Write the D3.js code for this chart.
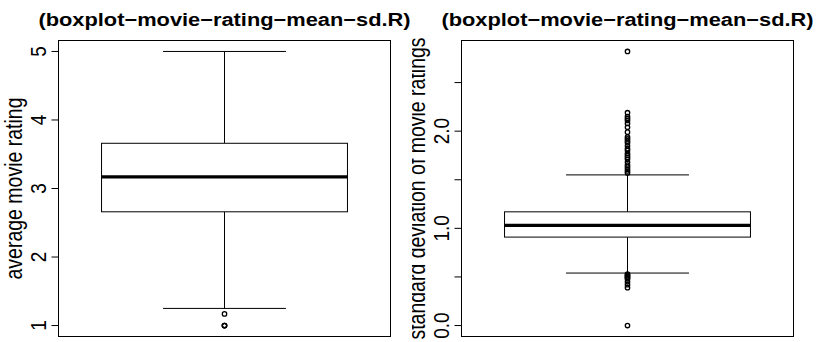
<!DOCTYPE html>
<html>
<head>
<meta charset="utf-8">
<script src="https://cdn.jsdelivr.net/npm/d3@7"></script>
<style>
    body { margin: 0; background: #fff; }
    svg { display: block; }
    text { font-family: "Liberation Sans", Arial, sans-serif; fill: #000; }
</style>
</head>
<body>
<main></main>
<script>
// box stats: lower whisker, Q1, median, Q3, upper whisker
var titleText = "(boxplot\u2212movie\u2212rating\u2212mean\u2212sd.R)";

var meanLabel = "average movie rating";
var meanStats = [1.25, 2.66, 3.17, 3.66, 5.0];
var meanOutliers = [1.17, 1.0, 1.0, 1.0];
var meanTicks = [1, 2, 3, 4, 5];
var meanTickLabels = ["1", "2", "3", "4", "5"];

var sdLabel = "standard deviation of movie ratings";
var sdStats = [0.54, 0.91, 1.03, 1.17, 1.55];
var sdOutliers = [2.82, 2.19, 2.15, 2.13, 2.11, 2.08, 2.04, 1.99,
                  1.94, 1.92, 1.90, 1.88, 1.85, 1.82, 1.80, 1.77, 1.75, 1.73,
                  1.71, 1.68, 1.65, 1.63, 1.61, 1.59, 1.57,
                  0.53, 0.52, 0.51, 0.50, 0.49, 0.48, 0.45, 0.42, 0.39, 0.0];
var sdTicks = [0, 0.5, 1.0, 1.5, 2.0, 2.5];
var sdTickLabels = ["0.0", "", "1.0", "", "2.0", ""];

var W = 820, H = 342;
var sx = 1.18; // the picture is a bit wider than tall

var svg = d3.select("main").append("svg")
            .attr("width", W)
            .attr("height", H);

function d3MakeBoxplot(offsetX, clipX, stats, outliers, ticks, tickLabels, label) {
    var left = 58.5 + offsetX, right = 390.5 + offsetX;
    var top = 40.5, bottom = 336.5;

    // figure region, R clips the margin text to it
    var clipId = "clip" + offsetX;
    svg.append("clipPath").attr("id", clipId)
       .append("rect")
       .attr("x", clipX).attr("y", 0)
       .attr("width", W / 2).attr("height", H);
    var g = svg.append("g").attr("clip-path", "url(#" + clipId + ")");

    var all = stats.concat(outliers);
    var lo = d3.min(all), hi = d3.max(all);
    var pad = (hi - lo) * 0.04;

    var x = d3.scaleLinear().domain([0.46, 1.54]).range([left, right]);
    var y = d3.scaleLinear().domain([lo - pad, hi + pad]).range([bottom, top]);

    // title
    g.append("text")
     .attr("transform", "translate(" + x(1) + ",26) scale(" + sx + ",1)")
     .attr("text-anchor", "middle")
     .attr("font-size", 18.5)
     .attr("font-weight", "bold")
     .text(titleText);

    // whiskers
    g.append("line")
     .attr("x1", x(1)).attr("x2", x(1))
     .attr("y1", y(stats[0])).attr("y2", y(stats[1]))
     .attr("stroke", "#000").attr("stroke-width", 1);
    g.append("line")
     .attr("x1", x(1)).attr("x2", x(1))
     .attr("y1", y(stats[3])).attr("y2", y(stats[4]))
     .attr("stroke", "#000").attr("stroke-width", 1);
    g.selectAll("line.cap")
     .data([stats[0], stats[4]])
     .enter()
     .append("line")
     .attr("class", "cap")
     .attr("x1", x(0.8)).attr("x2", x(1.2))
     .attr("y1", d => y(d)).attr("y2", d => y(d))
     .attr("stroke", "#000").attr("stroke-width", 1);

    // box
    g.append("rect")
     .attr("x", x(0.6))
     .attr("y", y(stats[3]))
     .attr("width", x(1.4) - x(0.6))
     .attr("height", y(stats[1]) - y(stats[3]))
     .attr("fill", "#fff")
     .attr("stroke", "#000").attr("stroke-width", 1);
    g.append("line")
     .attr("x1", x(0.6)).attr("x2", x(1.4))
     .attr("y1", y(stats[2])).attr("y2", y(stats[2]))
     .attr("stroke", "#000").attr("stroke-width", 3.2);

    // outliers
    g.selectAll("circle")
     .data(outliers)
     .enter()
     .append("circle")
     .attr("cx", x(1))
     .attr("cy", d => y(d))
     .attr("r", 2.2)
     .attr("fill", "none")
     .attr("stroke", "#000").attr("stroke-width", 1.3);

    // plot frame
    g.append("rect")
     .attr("x", left).attr("y", top)
     .attr("width", right - left).attr("height", bottom - top)
     .attr("fill", "none")
     .attr("stroke", "#000").attr("stroke-width", 1);

    // y axis
    var axis = g.append("g").attr("transform", "translate(" + left + ",0)");
    axis.selectAll("line")
        .data(ticks)
        .enter()
        .append("line")
        .attr("x1", -7).attr("x2", 0)
        .attr("y1", d => y(d)).attr("y2", d => y(d))
        .attr("stroke", "#000").attr("stroke-width", 1);
    axis.selectAll("text")
        .data(ticks)
        .enter()
        .append("text")
        .attr("transform", d => "translate(-12.5," + y(d) + ") scale(" + sx + ",1) rotate(-90)")
        .attr("text-anchor", "middle")
        .attr("font-size", 19)
        .text((d, i) => tickLabels[i]);

    g.append("text")
     .attr("transform", "translate(" + (left - 37) + "," + ((top + bottom) / 2) + ") scale(" + sx + ",1) rotate(-90)")
     .attr("text-anchor", "middle")
     .attr("font-size", 19.5)
     .text(label);
}

d3MakeBoxplot(0, 0, meanStats, meanOutliers, meanTicks, meanTickLabels, meanLabel);
d3MakeBoxplot(403, 412, sdStats, sdOutliers, sdTicks, sdTickLabels, sdLabel);
</script>
</body>
</html>
